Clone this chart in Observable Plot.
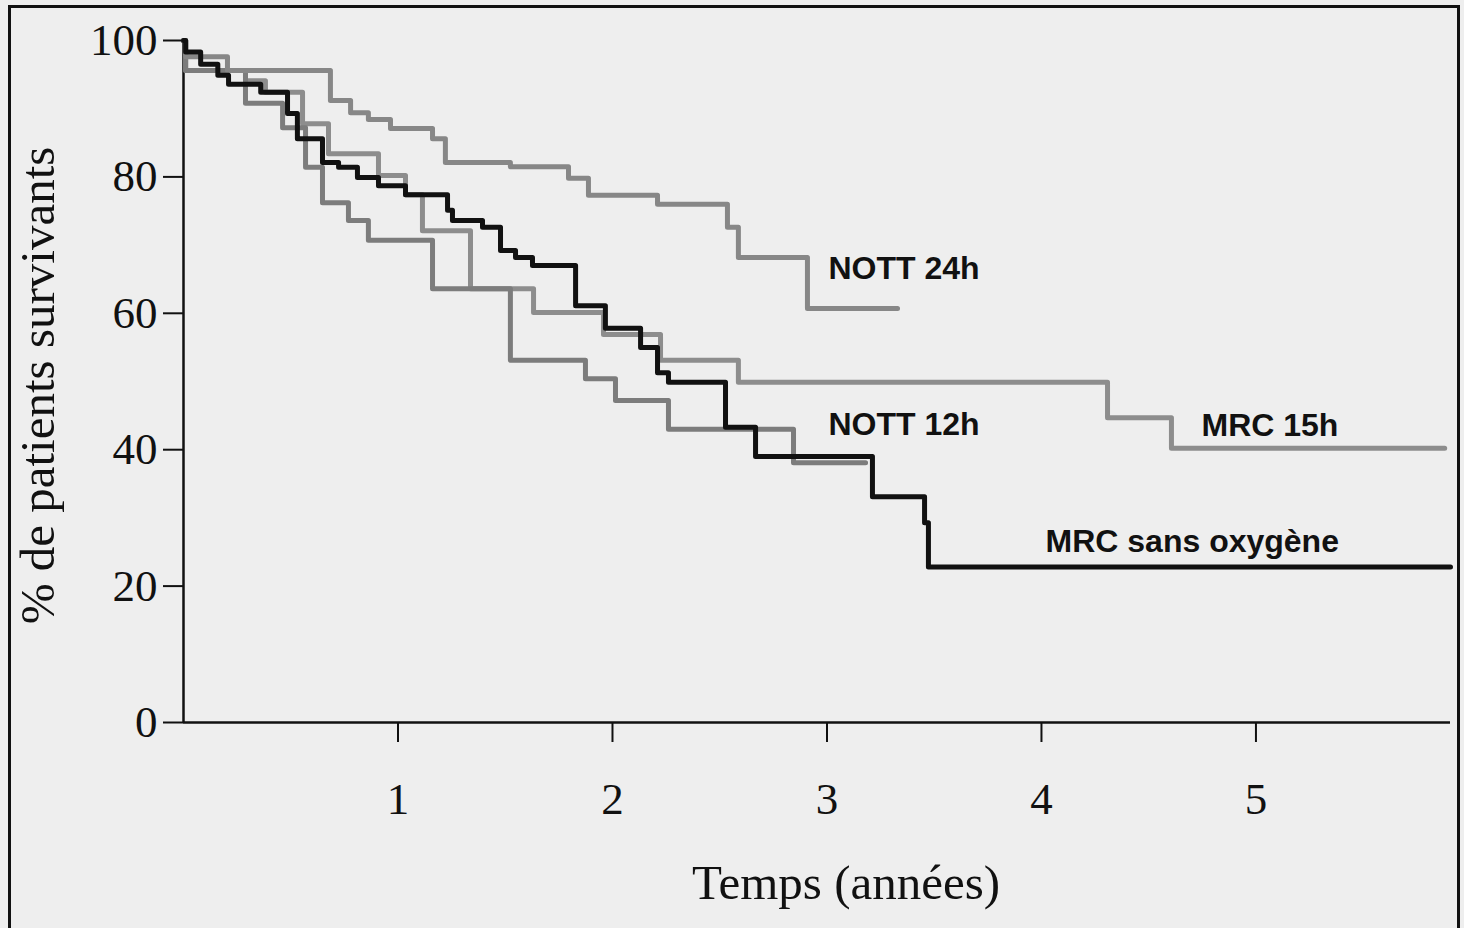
<!DOCTYPE html>
<html>
<head>
<meta charset="utf-8">
<script src="https://cdn.jsdelivr.net/npm/d3@7"></script>
<script src="https://cdn.jsdelivr.net/npm/@observablehq/plot@0.6"></script>
<style>
  html, body { margin: 0; padding: 0; background: #eeeeee; }
  #wrap { position: relative; width: 1464px; height: 928px; overflow: hidden; }
  #border { position: absolute; left: 8px; top: 5px; width: 1446px; height: 940px; border: 3px solid #111; pointer-events: none; }
</style>
</head>
<body>
<div id="wrap"><div id="border"></div></div>
<script>
// Kaplan–Meier survival curves (time in years, % surviving)
const nott24Time = [0, 0.01, 0.205, 0.685, 0.779, 0.862, 0.965, 1.161, 1.221, 1.524, 1.795, 1.888, 2.210, 2.536, 2.587, 2.909, 3.329];
const nott24Surv = [100, 97.6, 95.6, 91.2, 89.4, 88.4, 87.1, 85.6, 82.1, 81.5, 79.8, 77.3, 76.0, 72.6, 68.2, 60.7, 60.7];

const nott12Time = [0, 0.01, 0.289, 0.462, 0.569, 0.648, 0.769, 0.862, 1.161, 1.524, 1.874, 2.014, 2.261, 2.844, 3.180];
const nott12Surv = [100, 95.6, 90.8, 87.2, 81.4, 76.2, 73.6, 70.7, 63.6, 53.1, 50.4, 47.2, 43.0, 38.1, 38.1];

const mrc15Time = [0, 0.01, 0.289, 0.382, 0.555, 0.676, 0.909, 1.035, 1.114, 1.338, 1.632, 1.958, 2.224, 2.587, 4.308, 4.606, 5.88];
const mrc15Surv = [100, 95.6, 94.1, 92.4, 87.8, 83.4, 80.2, 77.4, 72.1, 63.6, 60.1, 56.9, 53.1, 49.9, 44.7, 40.2, 40.2];

const mrc0Time = [0, 0.01, 0.08, 0.16, 0.21, 0.36, 0.485, 0.531, 0.648, 0.723, 0.811, 0.909, 1.035, 1.231, 1.254, 1.394, 1.478, 1.548, 1.627, 1.828, 1.967, 2.131, 2.210, 2.261, 2.527, 2.667, 3.212, 3.455, 3.473, 5.907];
const mrc0Surv = [100, 98.3, 96.5, 94.9, 93.6, 92.4, 89.3, 85.6, 82.1, 81.4, 79.9, 78.7, 77.4, 75.1, 73.6, 72.6, 69.2, 68.2, 67.0, 61.1, 57.8, 55.0, 51.3, 49.9, 43.3, 39.0, 33.1, 29.3, 22.8, 22.8];

const seriesNames = ["NOTT 24h", "NOTT 12h", "MRC 15h", "MRC sans oxygène"];
const labelTime = [3.007, 3.007, 4.746, 4.019];
const labelSurv = [66.6, 43.7, 43.5, 26.5];

const xTicks = [1, 2, 3, 4, 5];
const yTicks = [0, 20, 40, 60, 80, 100];
const xTitle = "Temps (années)";
const yTitle = "% de patients survivants";

const toRows = (name, times, surv) => times.map((t, i) => ({serie: name, t, s: surv[i]}));
const rowsNott24 = toRows(seriesNames[0], nott24Time, nott24Surv);
const rowsNott12 = toRows(seriesNames[1], nott12Time, nott12Surv);
const rowsMrc15 = toRows(seriesNames[2], mrc15Time, mrc15Surv);
const rowsMrc0 = toRows(seriesNames[3], mrc0Time, mrc0Surv);
const labels = seriesNames.map((name, i) => ({name, t: labelTime[i], s: labelSurv[i]}));

const chart = Plot.plot({
  width: 1464,
  height: 928,
  marginLeft: 183,
  marginRight: 14,
  marginTop: 40,
  marginBottom: 206,
  style: {background: "transparent", fontFamily: "'Liberation Serif', 'Times New Roman', serif", fontSize: "44px", color: "#111", overflow: "visible"},
  x: {domain: [0, 5.907]},
  y: {domain: [0, 100]},
  marks: [
    Plot.axisY({ticks: yTicks, tickSize: 20, tickPadding: 6, strokeWidth: 2, label: null, fontSize: 45, tickFormat: d3.format("d")}),
    Plot.axisX({ticks: xTicks, tickSize: 20, tickPadding: 40, strokeWidth: 2, label: null, fontSize: 45, tickFormat: d3.format("d")}),
    Plot.ruleX([0], {stroke: "#111", strokeWidth: 2.5}),
    Plot.ruleY([0], {stroke: "#111", strokeWidth: 2.5}),
    Plot.line(rowsMrc15, {x: "t", y: "s", stroke: "#8d8d8d", strokeWidth: 5, curve: "step-after"}),
    Plot.line(rowsNott12, {x: "t", y: "s", stroke: "#7c7c7c", strokeWidth: 5, curve: "step-after"}),
    Plot.line(rowsNott24, {x: "t", y: "s", stroke: "#878787", strokeWidth: 5, curve: "step-after"}),
    Plot.line(rowsMrc0, {x: "t", y: "s", stroke: "#111", strokeWidth: 5, curve: "step-after"}),
    Plot.text(labels, {x: "t", y: "s", text: "name", textAnchor: "start", fontFamily: "'Liberation Sans', Arial, sans-serif", fontWeight: "bold", fontSize: 32, fill: "#111"}),
    Plot.text([xTitle], {frameAnchor: "bottom", textAnchor: "middle", dx: 29, dy: 176, fontSize: 49, fill: "#111"}),
    Plot.text([yTitle], {frameAnchor: "left", textAnchor: "middle", dx: -145, dy: 4, rotate: -90, fontSize: 49, fill: "#111"})
  ]
});
document.getElementById("wrap").prepend(chart);
</script>
</body>
</html>
